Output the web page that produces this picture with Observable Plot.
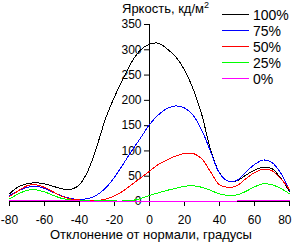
<!DOCTYPE html>
<html>
<head>
<meta charset="utf-8">
<script src="https://cdn.jsdelivr.net/npm/d3@7"></script>
<script src="https://cdn.jsdelivr.net/npm/@observablehq/plot@0.6"></script>
<style>
  body { margin: 0; background: #fff; }
  #wrap { position: relative; width: 294px; height: 242px; font-family: "Liberation Sans", Arial, sans-serif; color: #000; }
  .t { position: absolute; white-space: nowrap; font-size: 13px; line-height: 13px; }
  .t sup { font-size: 9px; vertical-align: 5px; line-height: 0; }
  #legend { position: absolute; left: 0; top: 0; }
</style>
</head>
<body>
<div id="wrap">
  <div class="t" style="left:122px;top:2px">Яркость, кд/м<sup>2</sup></div>
  <div class="t" style="left:50px;top:228px">Отклонение от нормали, градусы</div>
</div>
<script>
// Viewing angle, degrees
const angles = [-80,-75,-70,-65,-60,-55,-50,-45,-40,-35,-30,-25,-20,-15,-10,-5,0,5,10,15,20,25,30,35,40,45,50,55,60,65,70,75,80];

// Luminance, cd/m² per brightness setting
const lum100 = [15,29,35,37,35,30,25,24,33,62,110,165,207,243,277,300,311,313,302,286,260,222,170,101,57,40,41,52,62,68,65,46,20];
const lum75  = [12,21,28,30,26,18,11,6,4,6,13,27,48,74,101,126,152,171,184,189,185,170,140,98,56,40,42,58,73,82,77,56,22];
const lum50  = [10,21,31,33,28,19,10,5,3,2,2,5,11,21,34,47,60,73,82,90,95,95,84,58,33,28,31,45,57,64,61,45,24];
const lum25  = [5,15,22,23,19,12,6,3,2,1,1,1,1,1,2,6,12,17,22,26,30,31,28,22,15,12,13,20,29,35,33,26,15];
const lum0   = [2,2,2,2,2,2,2,2,1,0,0,0,0,0,0,0,0,0,0,0,0,0,0,0,0,0,1,1.5,1.5,1.5,1.5,1.5,1.5];

const seriesNames  = ["100%", "75%", "50%", "25%", "0%"];
const seriesColors = ["#000000", "#0000ff", "#ff0000", "#00ff00", "#ff00ff"];
const seriesValues = [lum100, lum75, lum50, lum25, lum0];

const xTicks = [-80,-60,-40,-20,0,20,40,60,80];
const yTicks = [0,50,100,150,200,250,300,350];

const rows = [];
seriesNames.forEach((name, i) => {
  angles.forEach((a, j) => rows.push({series: name, angle: a, value: seriesValues[i][j]}));
});

const W = 294, H = 242;
const mL = 9, mR = 5, mT = 24, mB = 41;
const xDomain = [-80, 80];
// horizontal offset of the vertical axis, which sits at 0°
const axisShift = (W - mL - mR) * (0 - xDomain[0]) / (xDomain[1] - xDomain[0]);
const xMax = xTicks[xTicks.length - 1];
const fmt = d => String(d).replace("−", "-");

const chart = Plot.plot({
  width: W, height: H,
  marginLeft: mL, marginRight: mR, marginTop: mT, marginBottom: mB,
  style: {fontFamily: "'Liberation Sans', Arial, sans-serif", fontSize: "12px", color: "#000", background: "transparent"},
  x: {domain: xDomain},
  y: {domain: [0, 350]},
  color: {domain: seriesNames, range: seriesColors},
  marks: [
    // tick marks and labels; the last label is right-aligned so it stays inside the frame
    Plot.axisX({ticks: xTicks, tickSize: 5, tickPadding: 9, label: null, tickFormat: d => d === xMax ? "" : fmt(d)}),
    Plot.axisX({ticks: [xMax], tickSize: 0, tickPadding: 14, label: null, textAnchor: "end", dx: 2, tickFormat: fmt}),
    Plot.axisY({ticks: yTicks, tickSize: 5, tickPadding: 3, label: null, dx: axisShift, tickFormat: d => String(d)}),
    Plot.ruleY([0], {stroke: "#000"}),
    Plot.ruleX([0], {y1: 0, y2: 350, stroke: "#000"}),
    ...seriesNames.map((name, i) =>
      Plot.line(rows.filter(r => r.series === name), {
        x: "angle", y: "value", stroke: seriesColors[i], strokeWidth: 1,
        curve: "catmull-rom", shapeRendering: "crispEdges"
      })
    )
  ]
});

const wrap = document.getElementById("wrap");
wrap.insertBefore(chart, wrap.firstChild);

// legend in the upper right corner
const ns = "http://www.w3.org/2000/svg";
const leg = document.createElementNS(ns, "svg");
leg.setAttribute("id", "legend");
leg.setAttribute("width", W);
leg.setAttribute("height", 100);
seriesNames.forEach((name, i) => {
  const y = 14.5 + i * 16;
  const ln = document.createElementNS(ns, "line");
  ln.setAttribute("x1", 222); ln.setAttribute("x2", 249);
  ln.setAttribute("y1", y); ln.setAttribute("y2", y);
  ln.setAttribute("stroke", seriesColors[i]);
  ln.setAttribute("shape-rendering", "crispEdges");
  leg.appendChild(ln);
  const tx = document.createElementNS(ns, "text");
  tx.setAttribute("x", 253); tx.setAttribute("y", y);
  tx.setAttribute("dy", "0.36em");
  tx.setAttribute("font-size", "14px");
  tx.setAttribute("font-family", "'Liberation Sans', Arial, sans-serif");
  tx.textContent = name;
  leg.appendChild(tx);
});
wrap.appendChild(leg);
</script>
</body>
</html>
